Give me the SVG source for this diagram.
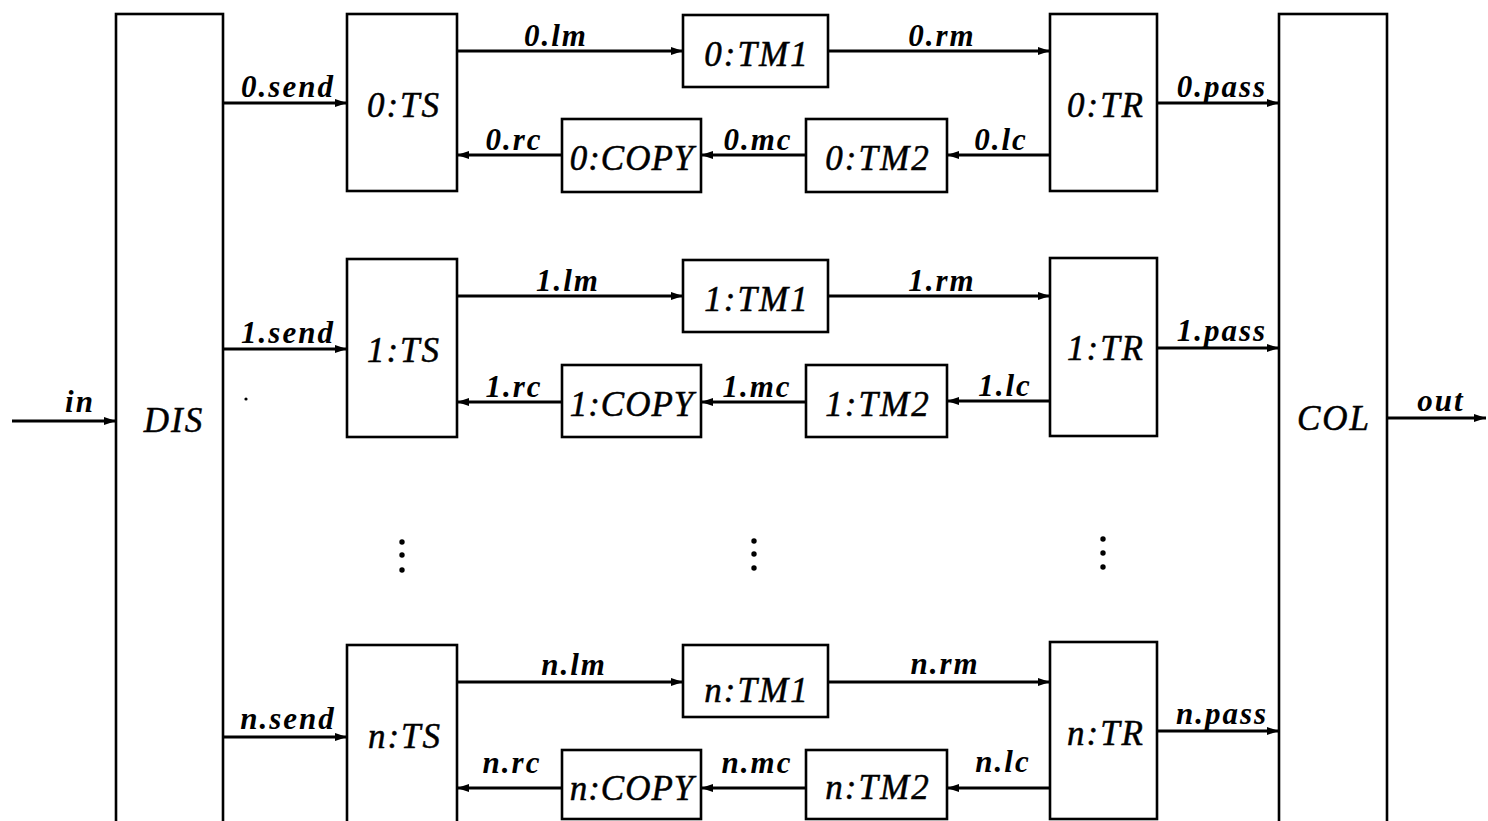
<svg xmlns="http://www.w3.org/2000/svg" width="1488" height="821" viewBox="0 0 1488 821">
<style>
.box{fill:#fff;stroke:#000;stroke-width:2.6}
.ln{stroke:#000;stroke-width:2.8;fill:none}
.nl{font-family:"Liberation Serif",serif;font-style:italic;font-size:35px;letter-spacing:2px;text-anchor:middle;fill:#000;stroke:#000;stroke-width:0.5}
.cp{letter-spacing:1px}
.el{font-family:"Liberation Serif",serif;font-style:italic;font-weight:bold;font-size:31px;letter-spacing:2px;text-anchor:middle;fill:#000}
.dot{fill:#000}
</style>
<defs>
<marker id="ah" markerUnits="userSpaceOnUse" markerWidth="14" markerHeight="10" refX="12" refY="5" orient="auto">
<path d="M0,1 L12,5 L0,9 Z" fill="#000"/>
</marker>
</defs>
<rect width="1488" height="821" fill="#fff"/>

<g id="connectors">
<line class="ln" x1="12" y1="421" x2="116" y2="421" marker-end="url(#ah)"/>
<line class="ln" x1="1387" y1="418" x2="1486" y2="418" marker-end="url(#ah)"/>
<!-- row 0 -->
<line class="ln" x1="223" y1="103" x2="347" y2="103" marker-end="url(#ah)"/>
<line class="ln" x1="457" y1="51" x2="683" y2="51" marker-end="url(#ah)"/>
<line class="ln" x1="828" y1="51" x2="1050" y2="51" marker-end="url(#ah)"/>
<line class="ln" x1="1157" y1="103" x2="1279" y2="103" marker-end="url(#ah)"/>
<line class="ln" x1="1050" y1="155" x2="947" y2="155" marker-end="url(#ah)"/>
<line class="ln" x1="806" y1="155" x2="701" y2="155" marker-end="url(#ah)"/>
<line class="ln" x1="562" y1="155" x2="457" y2="155" marker-end="url(#ah)"/>
<!-- row 1 -->
<line class="ln" x1="223" y1="349" x2="347" y2="349" marker-end="url(#ah)"/>
<line class="ln" x1="457" y1="296" x2="683" y2="296" marker-end="url(#ah)"/>
<line class="ln" x1="828" y1="296" x2="1050" y2="296" marker-end="url(#ah)"/>
<line class="ln" x1="1157" y1="348" x2="1279" y2="348" marker-end="url(#ah)"/>
<line class="ln" x1="1050" y1="401" x2="947" y2="401" marker-end="url(#ah)"/>
<line class="ln" x1="806" y1="402" x2="701" y2="402" marker-end="url(#ah)"/>
<line class="ln" x1="562" y1="402" x2="457" y2="402" marker-end="url(#ah)"/>
<!-- row n -->
<line class="ln" x1="223" y1="737" x2="347" y2="737" marker-end="url(#ah)"/>
<line class="ln" x1="457" y1="682" x2="683" y2="682" marker-end="url(#ah)"/>
<line class="ln" x1="828" y1="682" x2="1050" y2="682" marker-end="url(#ah)"/>
<line class="ln" x1="1157" y1="731" x2="1279" y2="731" marker-end="url(#ah)"/>
<line class="ln" x1="1050" y1="788" x2="947" y2="788" marker-end="url(#ah)"/>
<line class="ln" x1="806" y1="788" x2="701" y2="788" marker-end="url(#ah)"/>
<line class="ln" x1="562" y1="788" x2="457" y2="788" marker-end="url(#ah)"/>

<text class="el" x="80" y="412">in</text>
<text class="el" x="1441" y="411">out</text>
<text class="el" x="288" y="97">0.send</text>
<text class="el" x="556" y="46">0.lm</text>
<text class="el" x="942" y="46">0.rm</text>
<text class="el" x="1222" y="97">0.pass</text>
<text class="el" x="1001" y="150">0.lc</text>
<text class="el" x="758" y="150">0.mc</text>
<text class="el" x="514" y="150">0.rc</text>
<text class="el" x="288" y="343">1.send</text>
<text class="el" x="568" y="291">1.lm</text>
<text class="el" x="942" y="291">1.rm</text>
<text class="el" x="1222" y="341">1.pass</text>
<text class="el" x="1005" y="396">1.lc</text>
<text class="el" x="757" y="397">1.mc</text>
<text class="el" x="514" y="397">1.rc</text>
<text class="el" x="288" y="729">n.send</text>
<text class="el" x="574" y="675">n.lm</text>
<text class="el" x="945" y="674">n.rm</text>
<text class="el" x="1222" y="724">n.pass</text>
<text class="el" x="1003" y="772">n.lc</text>
<text class="el" x="757" y="773">n.mc</text>
<text class="el" x="512" y="773">n.rc</text>
</g>

<g id="DIS"><rect class="box" x="116" y="14" width="107" height="820"/><text class="nl" x="174" y="432">DIS</text></g>
<g id="COL"><rect class="box" x="1279" y="14" width="108" height="820"/><text class="nl" x="1334" y="430">COL</text></g>

<g id="TS0"><rect class="box" x="347" y="14" width="110" height="177"/><text class="nl" x="404" y="117">0:TS</text></g>
<g id="TM1_0"><rect class="box" x="683" y="15" width="145" height="72"/><text class="nl" x="757" y="66">0:TM1</text></g>
<g id="TR0"><rect class="box" x="1050" y="14" width="107" height="177"/><text class="nl" x="1106" y="117">0:TR</text></g>
<g id="COPY0"><rect class="box" x="562" y="119" width="139" height="73"/><text class="nl cp" x="632" y="170">0:COPY</text></g>
<g id="TM2_0"><rect class="box" x="806" y="119" width="141" height="73"/><text class="nl" x="878" y="170">0:TM2</text></g>

<g id="TS1"><rect class="box" x="347" y="259" width="110" height="178"/><text class="nl" x="404" y="362">1:TS</text></g>
<g id="TM1_1"><rect class="box" x="683" y="260" width="145" height="72"/><text class="nl" x="757" y="311">1:TM1</text></g>
<g id="TR1"><rect class="box" x="1050" y="258" width="107" height="178"/><text class="nl" x="1106" y="360">1:TR</text></g>
<g id="COPY1"><rect class="box" x="562" y="365" width="139" height="72"/><text class="nl cp" x="632" y="416">1:COPY</text></g>
<g id="TM2_1"><rect class="box" x="806" y="365" width="141" height="72"/><text class="nl" x="878" y="416">1:TM2</text></g>

<g id="TSn"><rect class="box" x="347" y="645" width="110" height="190"/><text class="nl" x="405" y="748">n:TS</text></g>
<g id="TM1_n"><rect class="box" x="683" y="645" width="145" height="72"/><text class="nl" x="757" y="702">n:TM1</text></g>
<g id="TRn"><rect class="box" x="1050" y="642" width="107" height="177"/><text class="nl" x="1106" y="745">n:TR</text></g>
<g id="COPYn"><rect class="box" x="562" y="750" width="139" height="69"/><text class="nl cp" x="632" y="800">n:COPY</text></g>
<g id="TM2n"><rect class="box" x="806" y="750" width="141" height="69"/><text class="nl" x="878" y="799">n:TM2</text></g>

<g id="ellipsis">
<circle class="dot" cx="402" cy="542" r="2.7"/><circle class="dot" cx="402" cy="555" r="2.7"/><circle class="dot" cx="402" cy="570" r="2.7"/>
<circle class="dot" cx="754" cy="541" r="2.7"/><circle class="dot" cx="754" cy="554" r="2.7"/><circle class="dot" cx="754" cy="568" r="2.7"/>
<circle class="dot" cx="1103" cy="539" r="2.7"/><circle class="dot" cx="1103" cy="553" r="2.7"/><circle class="dot" cx="1103" cy="567" r="2.7"/>
<circle class="dot" cx="246" cy="399" r="1.6"/>
</g>
</svg>
